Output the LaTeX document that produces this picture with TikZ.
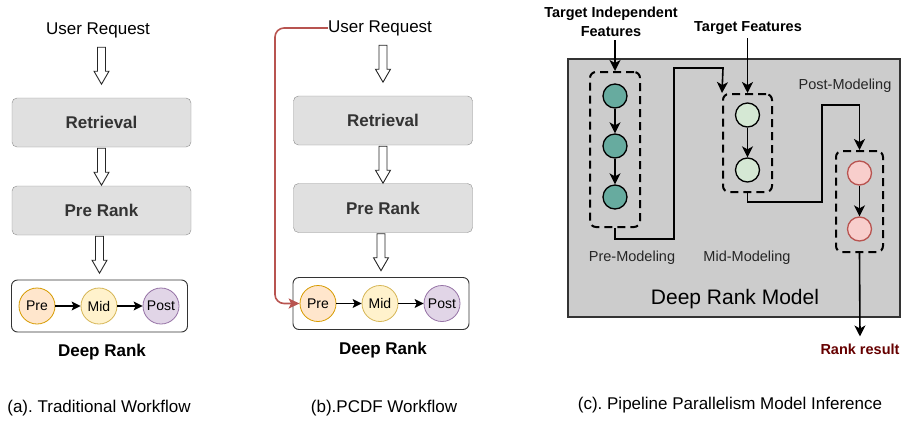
\documentclass[tikz,border=0pt]{standalone}
\usepackage{fontspec}
\setmainfont{Liberation Sans}
\usepackage{tikz}
\usetikzlibrary{shapes,arrows.meta,calc,positioning}
\frenchspacing

\definecolor{stagegray}{HTML}{E0E0E0}
\definecolor{modelgray}{HTML}{CCCCCC}
\definecolor{preFill}{HTML}{FFE6CC}
\definecolor{preLine}{HTML}{D79B00}
\definecolor{midFill}{HTML}{FFF2CC}
\definecolor{midLine}{HTML}{D6B656}
\definecolor{postFill}{HTML}{E1D5E7}
\definecolor{postLine}{HTML}{9673A6}
\definecolor{tealFill}{HTML}{67AB9F}
\definecolor{greenFill}{HTML}{D5E8D4}
\definecolor{redFill}{HTML}{F8CECC}
\definecolor{redLine}{HTML}{B85450}
\definecolor{resultred}{HTML}{660000}

\tikzstyle{request} = [minimum height=32pt, inner sep=0pt, font=\fontsize{17}{20}\selectfont]
\tikzstyle{stage} = [rectangle, draw=black!45, fill=stagegray, text=black!80,
	rounded corners=5pt, minimum width=179pt, minimum height=49pt,
	font=\fontsize{17}{20}\selectfont\bfseries]
\tikzstyle{rankbox} = [rectangle, draw=black!80, fill=white, rounded corners=6pt,
	minimum width=176pt, minimum height=52pt, line width=0.9pt]
\tikzstyle{phase} = [circle, draw, minimum size=36pt, inner sep=0pt, line width=0.8pt,
	font=\fontsize{14}{16}\selectfont]
\tikzstyle{hollow} = [draw=black!85, fill=white, line width=0.9pt]
\tikzstyle{line} = [draw, line width=1.2pt, -{Stealth[length=9pt,width=9pt,inset=2pt]}]
\tikzstyle{bypass} = [draw=redLine, line width=1.6pt, rounded corners=9pt,
	-{Stealth[length=11pt,width=10pt,inset=2.5pt]}]
\tikzstyle{caption} = [font=\fontsize{17}{20}\selectfont]
\tikzstyle{title} = [font=\fontsize{17}{20}\selectfont\bfseries]
\tikzstyle{modelbox} = [rectangle, draw=black!80, fill=modelgray, line width=2pt,
	minimum width=332pt, minimum height=258pt]
\tikzstyle{modelgroup} = [rectangle, draw, line width=2pt, dash pattern=on 8pt off 5pt,
	rounded corners=6pt]
\tikzstyle{cell} = [circle, draw, line width=1.3pt, minimum size=24pt, inner sep=0pt]
\tikzstyle{flow} = [draw, line width=1.6pt, -{Stealth[length=11pt,width=11pt,inset=3pt]}]
\tikzstyle{tag} = [font=\fontsize{14.5}{17}\selectfont, text=black!85]
\tikzstyle{boldtag} = [font=\fontsize{14.5}{19}\selectfont\bfseries, align=center]

% hollow block arrow under a node
\newcommand{\hollowarrow}[2]{%
	\path (#1.south -| #2.north) coordinate (hatop);
	\draw[hollow] ($(hatop)+(-4,1)$) -- ($(hatop)+(-4,25)$) -- ($(hatop)+(-7.5,25)$)
		-- ($(hatop)+(0,38)$) -- ($(hatop)+(7.5,25)$) -- ($(hatop)+(4,25)$)
		-- ($(hatop)+(4,1)$) -- cycle;}

\begin{document}
\begin{tikzpicture}[x=1pt, y=-1pt, node distance=88pt]
	\useasboundingbox (0,0) rectangle (902,424);

	% (a) traditional workflow
	\node [request] (ureqA) at (98,30) {User Request};
	\node [stage] (retA) at (101.5,122.5) {Retrieval};
	\node [stage, below of=retA] (prerankA) {Pre Rank};
	\node [rankbox] (deepA) at (99.5,306) {};
	\node [phase, fill=preFill, draw=preLine] (preA) at (37,306) {Pre};
	\node [phase, fill=midFill, draw=midLine, right of=preA, node distance=62pt] (midA) {Mid};
	\node [phase, fill=postFill, draw=postLine, right of=midA, node distance=62pt] (postA) {Post};
	\node [title] (deepTitleA) at (102,352) {Deep Rank};
	\node [caption] (capA) at (99,408) {(a). Traditional Workflow};
	\hollowarrow{ureqA}{retA}
	\hollowarrow{retA}{prerankA}
	\hollowarrow{prerankA}{deepA}
	\path [line] (preA) -- (midA);
	\path [line] (midA) -- (postA);

	% (b) PCDF workflow
	\node [request] (ureqB) at (380,28) {User Request};
	\node [stage] (retB) at (383,120.5) {Retrieval};
	\node [stage, below of=retB, node distance=87.5pt] (prerankB) {Pre Rank};
	\node [rankbox] (deepB) at (381,303.5) {};
	\node [phase, fill=preFill, draw=preLine] (preB) at (318,303.5) {Pre};
	\node [phase, fill=midFill, draw=midLine, right of=preB, node distance=62pt] (midB) {Mid};
	\node [phase, fill=postFill, draw=postLine, right of=midB, node distance=62pt] (postB) {Post};
	\node [title] (deepTitleB) at (383,350) {Deep Rank};
	\node [caption] (capB) at (384,408) {(b).PCDF Workflow};
	\hollowarrow{ureqB}{retB}
	\hollowarrow{retB}{prerankB}
	\hollowarrow{prerankB}{deepB}
	\path [line] (preB) -- (midB);
	\path [line] (midB) -- (postB);
	\coordinate (skipB) at (275,303.5);
	\path [bypass] (ureqB.west) -| (skipB) -- (preB.west);

	% (c) pipeline parallelism
	\node [modelbox] (model) at (734,188) {};
	\node [modelgroup, minimum width=50pt, minimum height=155pt] (groupPre) at (615,149.5) {};
	\node [modelgroup, minimum width=49pt, minimum height=98pt] (groupMid) at (747.5,143) {};
	\node [modelgroup, minimum width=47pt, minimum height=101pt] (groupPost) at (859.5,201.5) {};
	\node [cell, fill=tealFill] (pre1) at (615,96) {};
	\node [cell, fill=tealFill] (pre2) at (615,146) {};
	\node [cell, fill=tealFill] (pre3) at (615,197) {};
	\node [cell, fill=greenFill] (mid1) at (747.5,115) {};
	\node [cell, fill=greenFill] (mid2) at (747.5,170) {};
	\node [cell, fill=redFill, draw=redLine] (post1) at (859.5,173) {};
	\node [cell, fill=redFill, draw=redLine] (post2) at (859.5,229) {};
	\node [boldtag] (indepLabel) at (611,22) {Target Independent\\Features};
	\node [boldtag] (targetLabel) at (748,28) {Target Features};
	\node [tag] (postLabel) at (845,86) {Post-Modeling};
	\node [tag] (preLabel) at (632,258) {Pre-Modeling};
	\node [tag] (midLabel) at (747,258) {Mid-Modeling};
	\node [font=\fontsize{21}{24}\selectfont] (modelLabel) at (735,299) {Deep Rank Model};
	\node [boldtag, text=resultred, inner sep=1pt] (result) at (860,349) {Rank result};
	\node [caption] (capC) at (730,405) {(c). Pipeline Parallelism Model Inference};
	\coordinate (c1) at (674,239);
	\coordinate (c2) at (723,68);
	\coordinate (c3) at (822,202);
	\coordinate (c4) at (859.5,105);
	% Draw edges
	\path [flow] (indepLabel.south -| groupPre.north) -- (groupPre.north);
	\path [flow] (targetLabel.south -| groupMid.north) -- (groupMid.north);
	\path [flow] (pre1) -- (pre2);
	\path [flow] (pre2) -- (pre3);
	\path [flow] (mid1) -- (mid2);
	\path [flow] (post1) -- (post2);
	\path [flow] (groupPre.south) |- (c1) |- (c2) -- (groupMid.north west);
	\path [flow] (groupMid.south) |- (c3) |- (c4) -- (groupPost.north);
	\path [flow] (groupPost.south) -- ([yshift=6pt]result.north);
\end{tikzpicture}
\end{document}
